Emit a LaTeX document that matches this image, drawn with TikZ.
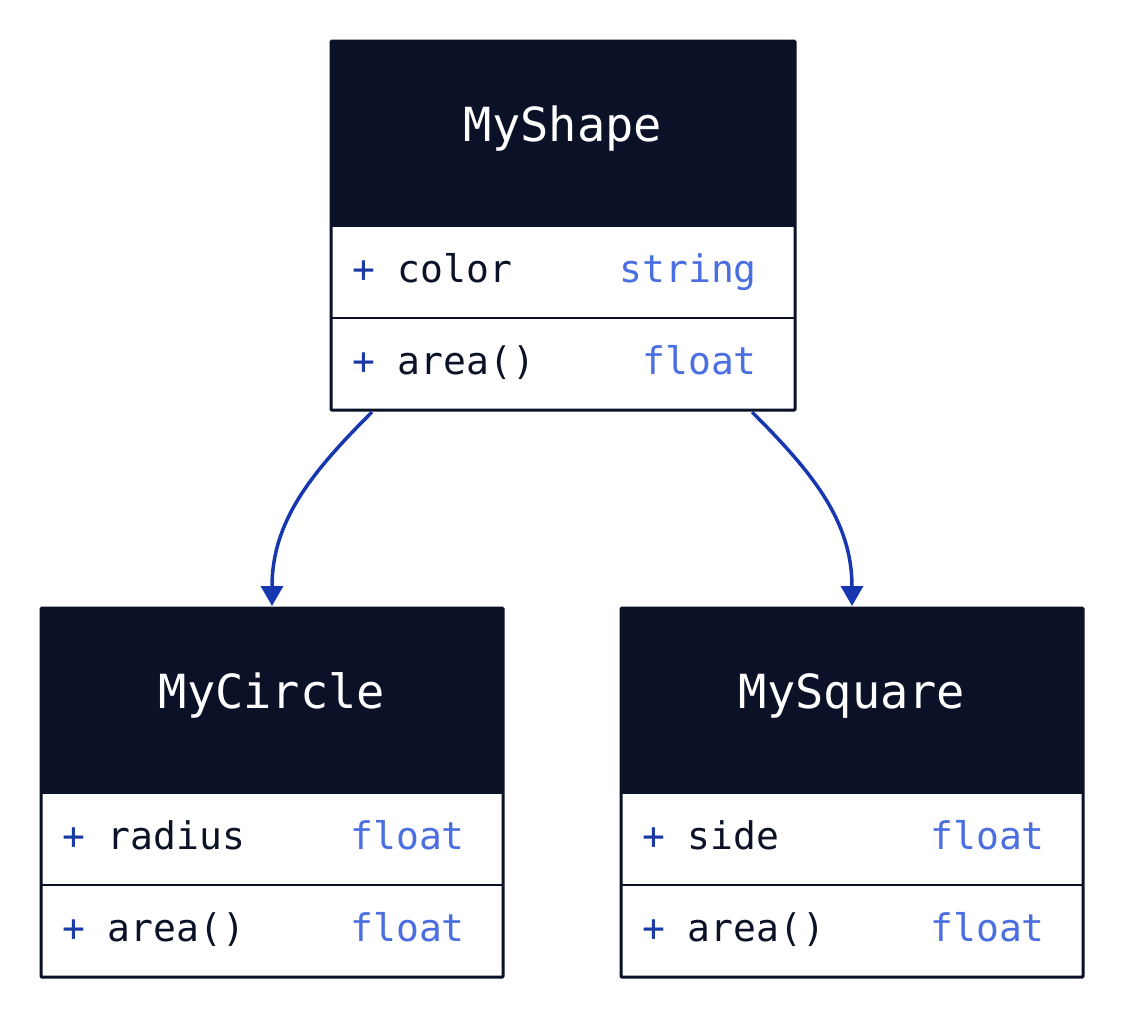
\documentclass[tikz,border=0pt]{standalone}
\usepackage{fontspec}
\setmonofont{DejaVu Sans Mono}
\usetikzlibrary{arrows.meta}

\definecolor{navy}{HTML}{0B1126}
\definecolor{plusblue}{HTML}{1A3BA6}
\definecolor{typeblue}{HTML}{4B6FE0}
\definecolor{linkblue}{HTML}{1737B0}

\tikzset{
    head/.style={fill=navy, text=white, anchor=north west, inner sep=0pt, outer sep=0pt,
        minimum width=462pt, minimum height=185pt,
        font=\ttfamily\fontsize{47}{47}\selectfont, text height=30pt, text depth=15pt},
    row/.style={draw=navy, line width=2pt, fill=white, anchor=north west, inner sep=0pt, outer sep=0pt,
        minimum width=462pt, minimum height=92pt},
    member/.style={anchor=west, inner sep=0pt, text=navy,
        font=\ttfamily\fontsize{38}{38}\selectfont, text height=20pt, text depth=0pt},
    typetext/.style={member, anchor=east, text=typeblue},
    classframe/.style={draw=navy, line width=3pt, rounded corners=1pt},
    link/.style={draw=linkblue, line width=3.5pt, -{Triangle[width=22pt,length=20pt]}},
}

\begin{document}
\begin{tikzpicture}[x=1pt, y=1pt]
    \useasboundingbox (0,0) rectangle (1124,-1020);

    % MyShape
    \node[head, minimum width=464pt] (myshape) at (331,-41) {MyShape};
    \node[row, minimum width=464pt] (myshapeattr) at (myshape.south west) {};
    \node[row, minimum width=464pt] (myshapeop) at (myshapeattr.south west) {};
    \node[member] (myshapeattrname) at ([xshift=21pt]myshapeattr.west) {\textcolor{plusblue}{+} color};
    \node[typetext] (myshapeattrtype) at ([xshift=-38pt]myshapeattr.east) {string};
    \node[member] (myshapeopname) at ([xshift=21pt]myshapeop.west) {\textcolor{plusblue}{+} area()};
    \node[typetext] (myshapeoptype) at ([xshift=-38pt]myshapeop.east) {float};
    \draw[classframe] (myshape.north west) rectangle (myshapeop.south east);

    % MyCircle
    \node[head] (mycircle) at (41,-608) {MyCircle};
    \node[row] (mycircleattr) at (mycircle.south west) {};
    \node[row] (mycircleop) at (mycircleattr.south west) {};
    \node[member] (mycircleattrname) at ([xshift=21pt]mycircleattr.west) {\textcolor{plusblue}{+} radius};
    \node[typetext] (mycircleattrtype) at ([xshift=-38pt]mycircleattr.east) {float};
    \node[member] (mycircleopname) at ([xshift=21pt]mycircleop.west) {\textcolor{plusblue}{+} area()};
    \node[typetext] (mycircleoptype) at ([xshift=-38pt]mycircleop.east) {float};
    \draw[classframe] (mycircle.north west) rectangle (mycircleop.south east);

    % MySquare
    \node[head] (mysquare) at (621,-608) {MySquare};
    \node[row] (mysquareattr) at (mysquare.south west) {};
    \node[row] (mysquareop) at (mysquareattr.south west) {};
    \node[member] (mysquareattrname) at ([xshift=21pt]mysquareattr.west) {\textcolor{plusblue}{+} side};
    \node[typetext] (mysquareattrtype) at ([xshift=-38pt]mysquareattr.east) {float};
    \node[member] (mysquareopname) at ([xshift=21pt]mysquareop.west) {\textcolor{plusblue}{+} area()};
    \node[typetext] (mysquareoptype) at ([xshift=-38pt]mysquareop.east) {float};
    \draw[classframe] (mysquare.north west) rectangle (mysquareop.south east);

    % Inheritance links
    \coordinate (myshapeleft) at ([xshift=41pt, yshift=-2pt]myshapeop.south west);
    \coordinate (myshaperight) at ([xshift=-43pt, yshift=-2pt]myshapeop.south east);
    \draw[link] (myshapeleft) to[out=-135, in=90] ([yshift=2pt]mycircle.north);
    \draw[link] (myshaperight) to[out=-45, in=90] ([yshift=2pt]mysquare.north);
\end{tikzpicture}
\end{document}
